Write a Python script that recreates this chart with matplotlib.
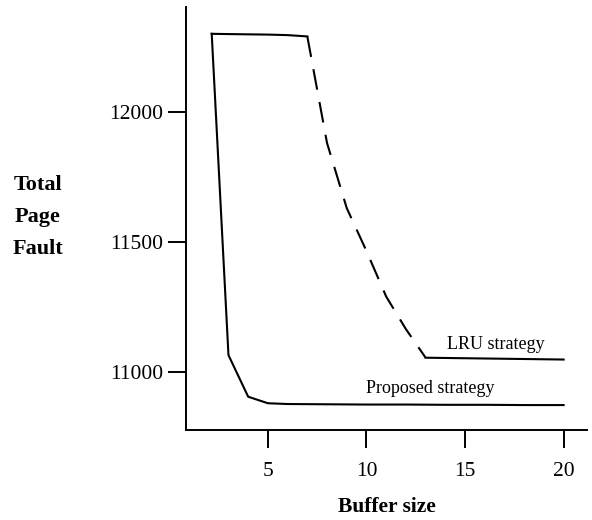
from matplotlib import pyplot as plt

# buffer sizes and page faults
buffer_size = [2.15, 3, 4, 5, 6, 8, 10, 12, 14, 16, 18, 20]
proposed = [12300, 11065, 10905, 10880, 10877, 10876, 10875, 10875, 10874, 10874, 10873, 10873]

lru_size = [2.15, 3, 4, 5, 6, 7, 8, 9, 10, 11, 12, 13, 14, 16, 18, 20]
lru = [12300, 12299, 12298, 12297, 12295, 12290, 11880, 11630, 11465, 11290, 11165, 11055, 11054, 11052, 11050, 11048]

x_ticks = [5, 10, 15, 20]
y_ticks = [11000, 11500, 12000]

plt.rcParams['font.family'] = ['Liberation Serif', 'DejaVu Serif']

fig = plt.figure(figsize=(5.92, 5.2), dpi=100)
ax = fig.add_axes([0.314, 0.173, 0.678, 0.814])

ax.plot(buffer_size, proposed, color='black', linewidth=1.5)

# LRU: solid up to 7, dashed 7..13, solid after
i7 = lru_size.index(7)
i13 = lru_size.index(13)
ax.plot(lru_size[:i7 + 1], lru[:i7 + 1], color='black', linewidth=1.5)
ax.plot(lru_size[i7:i13 + 1], lru[i7:i13 + 1], color='black', linewidth=1.5,
        linestyle=(0, (10, 6)))
ax.plot(lru_size[i13:], lru[i13:], color='black', linewidth=1.5)

ax.text(14.1, 11104, 'LRU strategy', fontsize=13, va='center', ha='left')
ax.text(10.0, 10938, 'Proposed strategy', fontsize=13, va='center', ha='left')

ax.set_xlim(0.84, 21.2)
ax.set_ylim(10777, 12404)
ax.set_xticks(x_ticks)
ax.set_yticks(y_ticks)
ax.tick_params(axis='both', direction='out', length=13, width=1.4, labelsize=15.5)
ax.tick_params(axis='x', pad=10)
ax.tick_params(axis='y', pad=3)
for s in ['top', 'right']:
    ax.spines[s].set_visible(False)
for s in ['left', 'bottom']:
    ax.spines[s].set_linewidth(1.4)

fig.text(38 / 592, 1 - 217 / 520, 'Total\nPage\nFault', fontsize=16, fontweight='bold',
         ha='center', va='center', linespacing=1.8)
fig.text(387 / 592, 1 - 507 / 520, 'Buffer size', fontsize=15.5, fontweight='bold',
         ha='center', va='center')

plt.savefig('out.png', dpi=100)
